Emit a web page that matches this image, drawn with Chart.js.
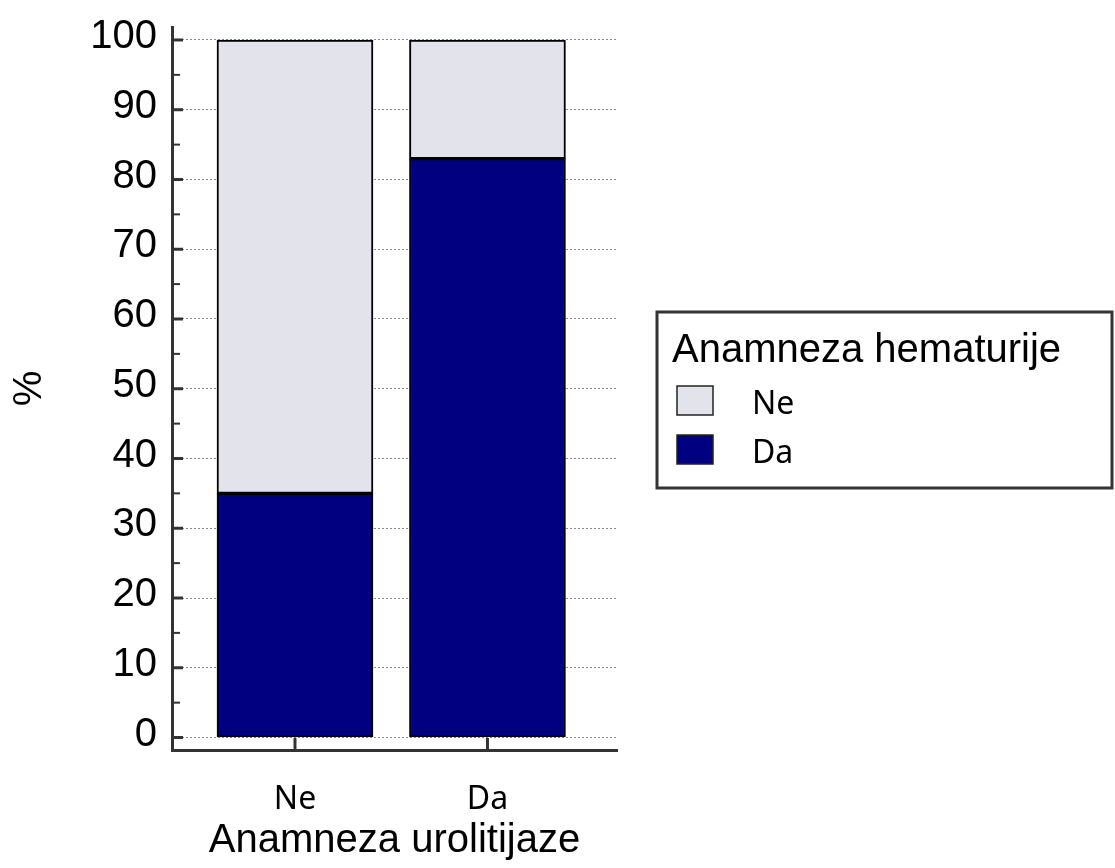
<!DOCTYPE html>
<html>
<head>
<meta charset="utf-8">
<script src="https://cdn.jsdelivr.net/npm/chart.js@4"></script>
<style>
  html, body { margin: 0; padding: 0; background: #fff; }
  #wrap { width: 1115px; height: 868px; position: relative; }
</style>
</head>
<body>
<div id="wrap"><canvas id="chart"></canvas></div>
<script>
// Data
const categories = ['Ne', 'Da'];          // Anamneza urolitijaze
const hematurijaDa = [35, 83];            // % with hematuria
const hematurijaNe = [65, 17];            // % without hematuria
const legendTitle = 'Anamneza hematurije';
const xTitle = 'Anamneza urolitijaze';
const yTitle = '%';

const DARK = '#000080';
const LIGHT = '#e3e3ec';
const AXIS = '#333333';

// Draws axis tick marks (major + minor) pointing inward
const tickMarks = {
    id: 'tickMarks',
    afterDatasetsDraw(chart) {
        const ctx = chart.ctx;
        const y = chart.scales.y;
        const x = chart.scales.x;
        ctx.save();
        ctx.strokeStyle = AXIS;
        ctx.lineWidth = 3;
        y.ticks.forEach(t => {
            const py = y.getPixelForValue(t.value);
            ctx.beginPath();
            ctx.moveTo(y.right, py);
            ctx.lineTo(y.right + 11, py);
            ctx.stroke();
            if (t.value < 100) {
                const pm = y.getPixelForValue(t.value + 5);
                ctx.lineWidth = 2;
                ctx.beginPath();
                ctx.moveTo(y.right, pm);
                ctx.lineTo(y.right + 8, pm);
                ctx.stroke();
                ctx.lineWidth = 3;
            }
        });
        x.ticks.forEach(t => {
            const px = x.getPixelForValue(t.value);
            ctx.beginPath();
            ctx.moveTo(px, x.top);
            ctx.lineTo(px, x.top - 12);
            ctx.stroke();
        });
        ctx.restore();
    }
};

// Boxed legend on the right, built from the datasets
const boxLegend = {
    id: 'boxLegend',
    afterDraw(chart) {
        const ctx = chart.ctx;
        const left = 657, top = 312, right = 1112, bottom = 488;
        ctx.save();
        ctx.strokeStyle = AXIS;
        ctx.lineWidth = 3;
        ctx.strokeRect(left, top, right - left, bottom - top);

        ctx.fillStyle = '#000';
        ctx.textBaseline = 'alphabetic';
        ctx.textAlign = 'left';
        ctx.font = '40px "Liberation Sans", Arial, sans-serif';
        ctx.fillText(legendTitle, left + 15, top + 50);

        const items = chart.data.datasets.slice().reverse();
        ctx.font = '32px "Noto Sans", sans-serif';
        items.forEach((ds, i) => {
            const by = top + 74 + i * 49;
            ctx.fillStyle = ds.backgroundColor;
            ctx.fillRect(left + 20, by, 36, 29);
            ctx.strokeStyle = '#222';
            ctx.lineWidth = 1.5;
            ctx.strokeRect(left + 20, by, 36, 29);
            ctx.fillStyle = '#000';
            ctx.fillText(ds.label, left + 95, by + 28);
        });
        ctx.restore();
    }
};

const ctx = document.getElementById('chart').getContext('2d');
new Chart(ctx, {
    type: 'bar',
    data: {
        datasets: [
            {
                label: 'Da',
                data: hematurijaDa.map((v, i) => ({ x: i, y: v })),
                backgroundColor: DARK,
                borderColor: '#000',
                borderWidth: 2,
                borderSkipped: false,
                barThickness: 156
            },
            {
                label: 'Ne',
                data: hematurijaNe.map((v, i) => ({ x: i, y: v })),
                backgroundColor: LIGHT,
                borderColor: '#000',
                borderWidth: 2,
                borderSkipped: false,
                barThickness: 156
            }
        ]
    },
    options: {
        responsive: true,
        maintainAspectRatio: false,
        animation: false,
        layout: { padding: { left: 0, right: 498, top: 27, bottom: 0 } },
        plugins: {
            legend: { display: false },
            tooltip: { enabled: false }
        },
        scales: {
            x: {
                type: 'linear',
                stacked: true,
                offset: false,
                min: -0.639,
                max: 1.673,
                afterFit: s => { s.height = 118; s.paddingLeft = 0; s.paddingRight = 0; },
                grid: { display: false, drawTicks: false, offset: false },
                border: { display: true, color: AXIS, width: 3 },
                ticks: {
                    stepSize: 1,
                    includeBounds: false,
                    padding: 31,
                    color: '#000',
                    font: { family: '"Noto Sans", sans-serif', size: 32 },
                    callback: v => categories[v] !== undefined ? categories[v] : ''
                },
                title: {
                    display: true,
                    text: xTitle,
                    color: '#000',
                    font: { family: '"Liberation Sans", Arial, sans-serif', size: 40 },
                    padding: { top: 0, bottom: 3 }
                }
            },
            y: {
                stacked: true,
                min: -1.79,
                max: 101.86,
                afterFit: s => { s.width = 172; s.paddingTop = 0; s.paddingBottom = 0; },
                grid: {
                    drawTicks: false,
                    color: '#8a8a8a',
                    lineWidth: 1
                },
                border: { display: true, color: AXIS, width: 3, dash: [2, 2] },
                ticks: {
                    stepSize: 10,
                    includeBounds: false,
                    padding: 15,
                    labelOffset: -3,
                    color: '#000',
                    font: { family: '"Liberation Sans", Arial, sans-serif', size: 40 }
                },
                title: {
                    display: true,
                    text: yTitle,
                    color: '#000',
                    font: { family: '"Liberation Sans", Arial, sans-serif', size: 40 },
                    padding: { top: 6, bottom: 0 }
                }
            }
        }
    },
    plugins: [tickMarks, boxLegend]
});
</script>
</body>
</html>
